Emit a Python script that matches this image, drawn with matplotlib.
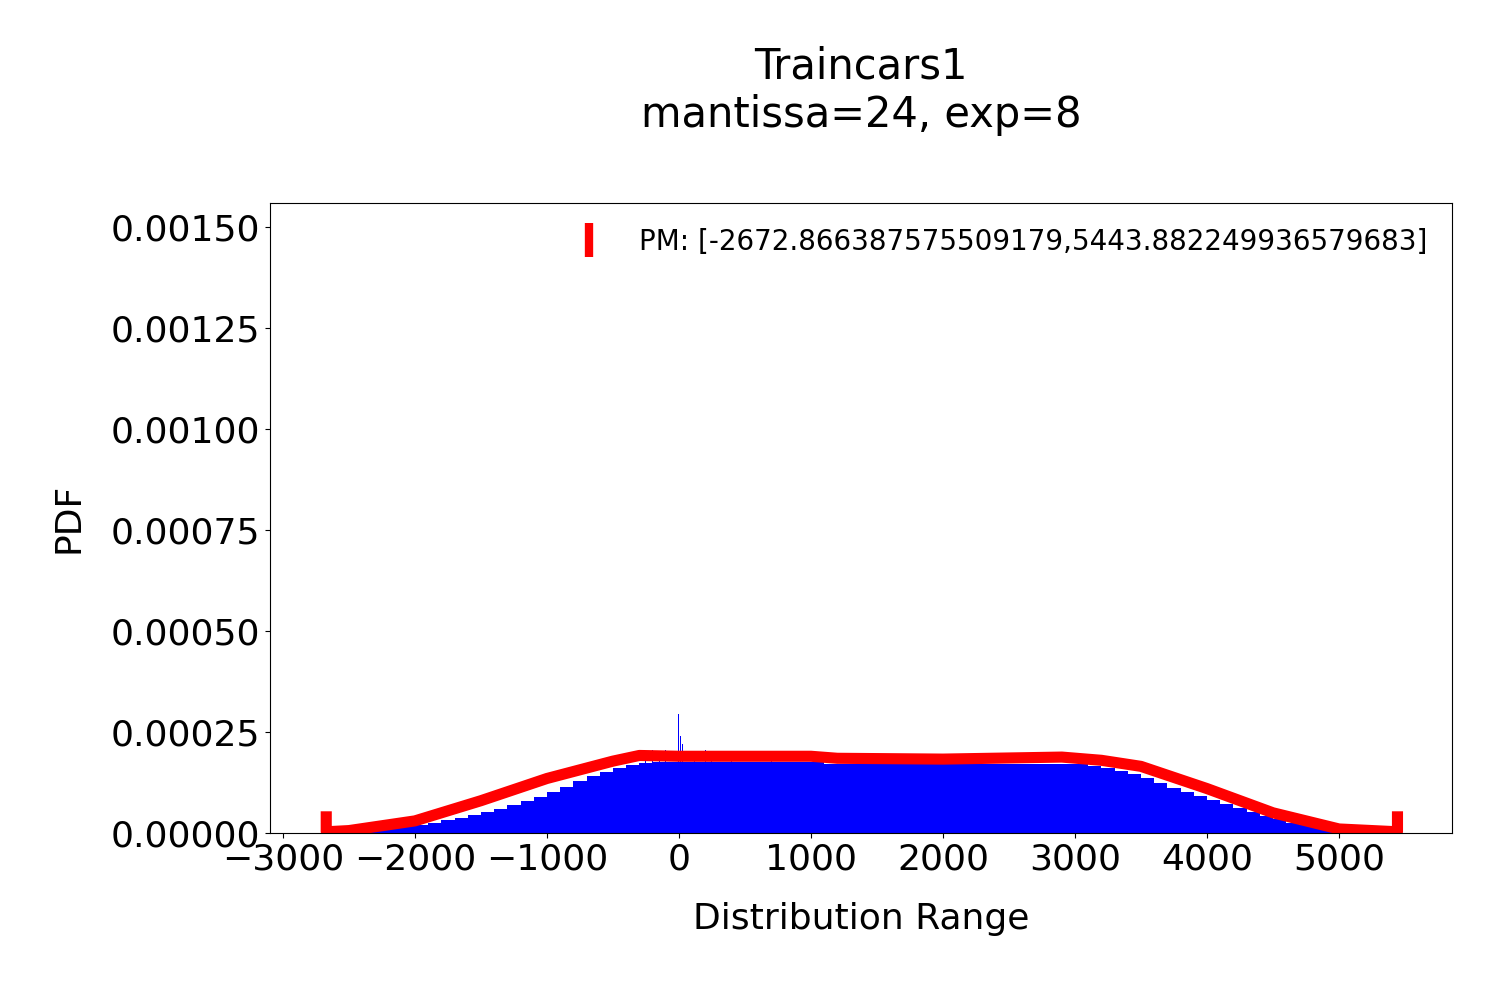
import matplotlib
matplotlib.use("Agg")
import matplotlib.pyplot as plt
import numpy as np

bin_left = list(range(-2700, 5500, 100))
hist_vals = [0.3,0.4,0.5,0.7,1.0,1.3,1.7,2.1,2.6,3.2,3.8,4.5,5.3,6.0,7.0,8.0,9.0,10.2,11.5,12.8,
             14.0,15.0,16.0,16.8,17.3,17.5,17.5,17.6,17.6,17.6,17.6,17.6,17.6,17.6,17.6,17.6,17.6,17.6,
             17.2,17.2,17.2,17.2,17.2,17.2,17.2,17.2,17.2,17.2,17.2,17.2,17.2,17.2,17.2,17.2,17.2,17.2,17.2,
             17.0,16.5,16.0,15.3,14.5,13.5,12.3,11.2,10.2,9.2,8.2,7.2,6.2,5.2,4.3,3.4,2.6,1.9,1.3,0.8,0.5,0.3,0.2,0.15,0.1]
spike_x = [0, 10, 30, -200, -100, 200, 250, 700, -150, 120, -250, 400, 1050]
spike_h = [29.5, 24, 22, 20.5, 20.5, 20.5, 20, 20, 20, 20, 19.5, 19, 19.5]
curve_x = [-2672, -2672, -2500, -2000, -1500, -1000, -500, -300, 0, 500, 1000, 1200, 2000, 2900, 3200, 3500, 4000, 4500, 5000, 5443, 5443]
curve_y = [4.0, 0.3, 0.6, 3.0, 8.0, 13.5, 17.8, 19.2, 19.0, 19.0, 19.0, 18.5, 18.3, 18.8, 18.0, 16.5, 11.0, 5.0, 1.0, 0.3, 4.0]
label = "PM: [-2672.866387575509179,5443.882249936579683]"

fig = plt.figure(figsize=(15, 10), dpi=100)
ax = fig.add_axes([0.18, 0.167, 0.788, 0.63])
n = len(hist_vals)
ax.bar(bin_left[:n], np.array(hist_vals) * 1e-5, width=100, align='edge', color='blue', linewidth=0)
ax.bar(spike_x, np.array(spike_h) * 1e-5, width=8, color='blue', linewidth=0)
ax.plot(curve_x, np.array(curve_y) * 1e-5, color='red', linewidth=8)
ax.plot([], [], color='red', marker='|', linestyle='none', markersize=25, markeredgewidth=6, label=label)
ax.set_xlim(-3098, 5856)
ax.set_ylim(0, 0.00156)
ax.set_xticks([-3000, -2000, -1000, 0, 1000, 2000, 3000, 4000, 5000])
ax.set_yticks([0, 0.00025, 0.0005, 0.00075, 0.001, 0.00125, 0.0015])
ax.set_yticklabels(["0.00000", "0.00025", "0.00050", "0.00075", "0.00100", "0.00125", "0.00150"])
ax.tick_params(labelsize=26)
ax.set_xlabel("Distribution Range", fontsize=26, labelpad=18)
ax.set_ylabel("PDF", fontsize=26, labelpad=18)
ax.set_title("Traincars1\nmantissa=24, exp=8", fontsize=30, pad=55)
ax.legend(loc='upper right', fontsize=20, frameon=False)
fig.savefig("out.png")
